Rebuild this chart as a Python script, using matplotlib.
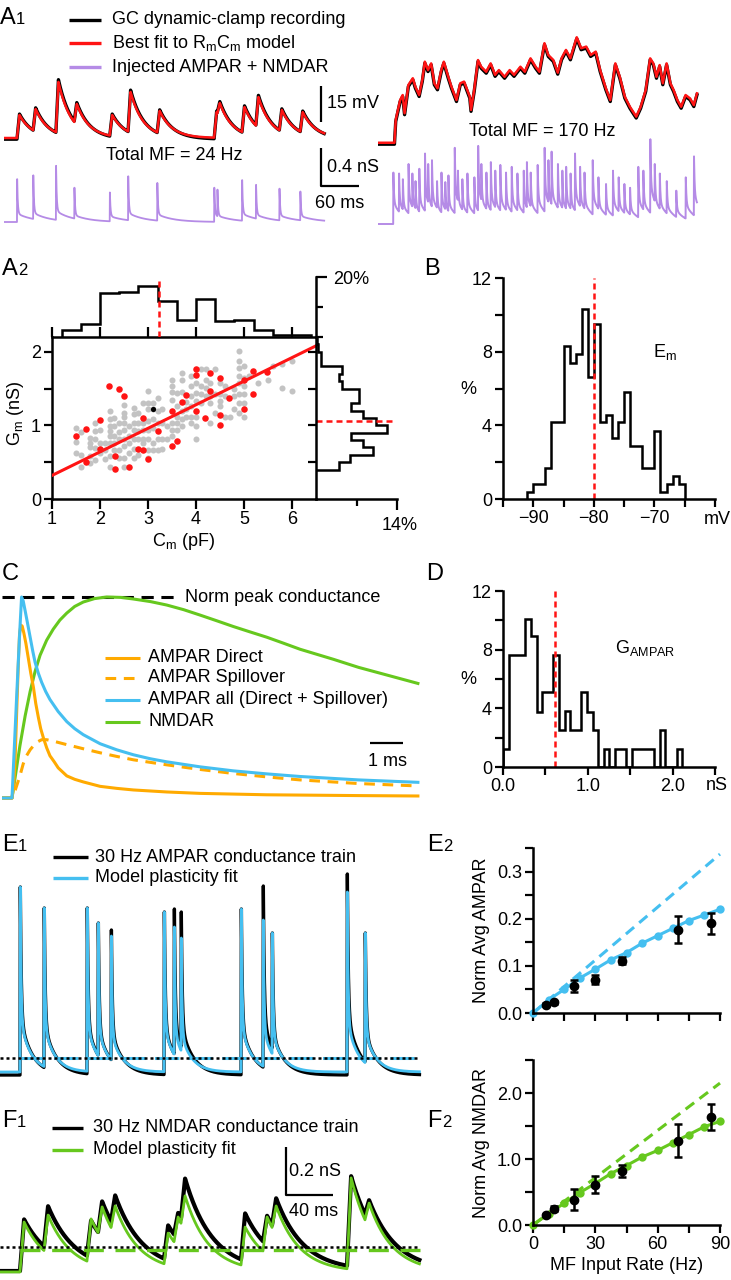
import numpy as np
import matplotlib
matplotlib.use("Agg")
import matplotlib.pyplot as plt

# ======================= DATA =======================
# ---- A1 left (Total MF = 24 Hz) ----
a1l_onsets = [20.5, 46, 82, 111, 167, 196, 242, 332, 337, 376, 398, 435, 468]          # ms
a1l_vpeak = [9.6, 12.1, 23.4, 14.2, 9.6, 19.2, 11.3, 10.8, 14.6, 12.9, 17.1, 11.7, 10.8]  # mV above rest
a1l_gpeak = [0.45, 0.49, 0.59, 0.36, 0.31, 0.48, 0.41, 0.36, 0.34, 0.44, 0.39, 0.35, 0.32]  # nS
a1_duration = 506
# ---- A1 right (Total MF = 170 Hz) ----
a1r_t = [0, 26, 28, 35, 39, 42, 48, 55, 59, 65, 70, 74, 79, 84, 89, 94, 100, 104, 111, 116,
         124, 130, 136, 145, 147, 152, 158, 163, 171, 178, 185, 191, 200, 208, 215, 225, 232, 241, 249, 255,
         263, 269, 277, 284, 290, 297, 304, 314, 321, 329, 336, 344, 351, 360, 367, 375, 382, 390, 398, 408,
         415, 423, 430, 435, 440, 445, 450, 456, 462, 467, 473, 479, 486, 493, 499, 504]
a1r_v = [0.1, 0.1, 9.6, 17.9, 20, 12.4, 24.2, 27, 23.5, 20, 26.3, 33.9, 30.4, 33.2, 24.9, 22.8, 30.4, 33.9, 27.6, 23.5,
         17.9, 24.9, 25.6, 19.3, 13.8, 22.1, 34.6, 31.8, 29.7, 33.2, 28.4, 30.4, 27.6, 30.4, 28.4, 31.8, 29.7, 35.3, 31.8, 29.7,
         41.6, 36.7, 34.6, 29.3, 35.3, 38.8, 35.3, 44.1, 39.5, 40.2, 36.7, 38.1, 30.4, 22.8, 17.9, 33.2, 27.6, 19.3, 15.1, 11,
         15.1, 22.1, 35.3, 33.2, 27.6, 32.5, 24.9, 33.2, 24.9, 22.1, 17.9, 15.1, 20, 18.6, 15.8, 20.7]
a1r_onsets = [24, 33, 39, 48, 54, 59, 65, 74, 79, 85, 93, 100, 106, 111, 121, 126, 133, 141, 152, 158,
              163, 171, 178, 185, 193, 202, 211, 220, 230, 235, 241, 252, 263, 269, 274, 284, 291, 297, 304, 311,
              319, 326, 339, 348, 360, 371, 380, 389, 398, 411, 419, 430, 437, 445, 456, 471, 486, 499]
a1r_gpeak = [0.54, 0.53, 0.47, 0.63, 0.53, 0.45, 0.58, 0.74, 0.63, 0.67, 0.45, 0.54, 0.44, 0.51, 0.80, 0.56, 0.47, 0.53, 0.49, 0.82,
             0.63, 0.54, 0.65, 0.56, 0.62, 0.54, 0.60, 0.53, 0.56, 0.65, 0.54, 0.62, 0.80, 0.67, 0.76, 0.63, 0.56, 0.60, 0.53, 0.74,
             0.60, 0.54, 0.67, 0.49, 0.42, 0.56, 0.49, 0.42, 0.38, 0.60, 0.56, 0.89, 0.63, 0.53, 0.45, 0.35, 0.49, 0.71]

# ---- A2 ----
a2_gray = {
    1.5: [0.97, 0.77, 0.63], 1.6: [0.91, 0.60, 0.44], 1.8: [0.83, 0.76, 0.71, 0.58, 0.49],
    1.9: [1.03, 0.92, 0.81, 0.69, 0.53], 2.0: [0.94, 0.76, 0.63], 2.1: [0.76, 0.67, 0.54],
    2.2: [1.19, 1.08, 0.99, 0.92, 0.85, 0.76, 0.58, 0.44], 2.3: [1.10, 0.99, 0.85, 0.76, 0.67],
    2.4: [1.03, 0.91, 0.81, 0.67, 0.56], 2.5: [1.27, 1.17, 1.12, 1.03, 0.94, 0.81, 0.72, 0.56, 0.44],
    2.6: [0.99, 0.85, 0.76, 0.63], 2.7: [1.24, 1.15, 1.03, 0.94, 0.81, 0.68, 0.56],
    2.8: [1.17, 1.03, 0.92, 0.81, 0.60], 2.9: [1.31, 1.03, 0.94, 0.81, 0.76],
    3.0: [1.46, 1.31, 1.22, 1.06, 0.94, 0.81, 0.67, 0.56], 3.1: [1.31, 1.22, 1.08, 0.96, 0.76, 0.67],
    3.2: [1.37, 1.19, 1.03, 0.81, 0.67], 3.3: [1.22, 1.03, 0.81, 0.68], 3.4: [0.99, 0.81],
    3.5: [1.62, 1.53, 1.45, 1.35, 1.03, 0.94, 0.85], 3.6: [1.44, 1.26, 1.12, 1.03, 0.94],
    3.7: [1.71, 1.62, 1.45, 1.19, 1.08, 0.99], 3.8: [1.32, 1.22, 1.12],
    3.9: [1.67, 1.53, 1.40, 1.26, 1.12, 1.03], 4.0: [1.58, 1.44, 1.33, 1.12, 0.99, 0.81],
    4.1: [1.76, 1.53, 1.42, 1.31], 4.2: [1.76, 1.62, 1.51, 1.40], 4.3: [1.58, 1.40, 1.31, 1.03],
    4.4: [1.76, 1.42, 1.17], 4.5: [1.58, 1.42, 1.33, 1.26], 4.6: [1.53, 1.40, 1.12], 4.7: [1.12],
    4.8: [1.49, 1.40, 1.22], 4.9: [2.01, 1.87, 1.78, 1.67, 1.58, 1.42, 1.31, 1.17],
    5.0: [1.80, 1.65, 1.53, 1.42, 1.31, 1.12], 5.1: [1.67], 5.3: [1.58], 5.5: [1.62], 5.6: [1.80],
    5.8: [1.83, 1.51], 6.0: [1.87, 1.46],
}
a2_red_cm = [1.51, 1.71, 1.71, 2.0, 2.0, 2.19, 2.31, 2.31, 2.40, 2.50, 2.60, 2.79, 2.90, 2.90, 2.99, 3.20, 3.49, 3.49,
             3.60, 3.70, 3.79, 3.99, 3.99, 3.99, 4.19, 4.29, 4.29, 4.49, 4.49, 4.49, 4.69, 4.99, 4.99, 5.18, 5.18, 5.47]
a2_red_gm = [0.86, 0.95, 0.50, 1.07, 0.68, 1.53, 0.58, 0.41, 1.49, 1.40, 0.43, 0.68, 0.66, 1.10, 0.54, 0.93, 1.19, 0.72,
             0.79, 1.32, 1.41, 1.76, 1.68, 1.19, 1.10, 1.71, 1.47, 1.65, 1.14, 1.01, 1.37, 1.61, 1.22, 1.74, 1.43, 1.73]
a2_black_cm, a2_black_gm = [3.10], [1.22]
a2_fit_cm = [1.0, 6.5]
a2_fit_gm = [0.32, 2.08]
a2_cm_edges = [1.2, 1.6, 2.0, 2.4, 2.8, 3.2, 3.6, 4.0, 4.4, 4.8, 5.2, 5.6, 6.0, 6.4]
a2_cm_pct = [2.2, 4.4, 14.7, 15.0, 16.9, 11.9, 5.6, 12.6, 5.3, 5.8, 2.2, 0.8, 0.8]
a2_cm_median = 3.23
a2_gm_edges = [0.4, 0.5, 0.6, 0.7, 0.8, 0.9, 1.0, 1.1, 1.2, 1.3, 1.4, 1.5, 1.6, 1.7, 1.8, 1.9, 2.0, 2.1, 2.2]
a2_gm_pct = [4.0, 5.9, 9.9, 8.1, 6.0, 12.3, 10.3, 8.1, 6.0, 7.5, 7.5, 4.5, 4.0, 4.5, 0.8, 0.8, 0.4, 0.1]
a2_gm_median = 1.06

# ---- B ----
b_edges = list(range(-91, -64))
b_pct = [0.4, 0.83, 0.83, 1.66, 4.17, 4.17, 8.3, 7.4, 7.85, 10.3, 6.6, 9.5, 4.17, 4.55, 3.3, 4.17, 5.8,
         2.9, 2.9, 1.66, 1.66, 3.7, 0.4, 0.83, 1.24, 0.83]
b_median = -80

# ---- C (normalised conductance waveforms, time in ms) ----
c_direct_t = [-0.3, 0.0, 0.05, 0.09, 0.14, 0.19, 0.23, 0.27, 0.31, 0.36, 0.42, 0.49, 0.57, 0.65, 0.72, 0.80, 0.87,
              0.95, 1.05, 1.15, 1.28, 1.40, 1.66, 1.90, 2.16, 2.67, 3.17, 3.68, 4.69, 5.70, 7.72, 10.5, 12.3]
c_direct_v = [0, 0, 0.06, 0.17, 0.42, 0.66, 0.82, 0.86, 0.855, 0.82, 0.77, 0.70, 0.62, 0.55, 0.47, 0.40, 0.345,
              0.30, 0.25, 0.21, 0.18, 0.15, 0.11, 0.093, 0.08, 0.058, 0.048, 0.04, 0.03, 0.023, 0.016, 0.012, 0.01]
c_spill_t = [-0.3, 0.0, 0.10, 0.24, 0.34, 0.44, 0.55, 0.65, 0.78, 0.90, 1.05, 1.25, 1.60, 2.16, 2.67, 3.17, 3.68,
             4.69, 5.70, 6.71, 7.72, 8.73, 10.5, 12.3]
c_spill_v = [0, 0, 0.04, 0.11, 0.17, 0.21, 0.24, 0.26, 0.28, 0.29, 0.29, 0.283, 0.268, 0.245, 0.225, 0.207, 0.19,
             0.165, 0.142, 0.122, 0.105, 0.09, 0.072, 0.06]
c_all_t = [-0.3, 0.0, 0.07, 0.14, 0.22, 0.29, 0.34, 0.40, 0.47, 0.55, 0.63, 0.70, 0.80, 0.90, 1.02, 1.15, 1.40,
           1.66, 1.90, 2.16, 2.67, 3.17, 3.68, 4.20, 4.69, 5.70, 6.71, 7.72, 8.73, 10.5, 12.3]
c_all_v = [0, 0, 0.25, 0.50, 0.78, 1.0, 0.98, 0.93, 0.87, 0.80, 0.73, 0.675, 0.62, 0.575, 0.53, 0.49, 0.43,
           0.38, 0.345, 0.315, 0.27, 0.24, 0.215, 0.195, 0.18, 0.155, 0.135, 0.12, 0.107, 0.09, 0.078]
c_nmda_t = [-0.3, 0.0, 0.12, 0.24, 0.40, 0.55, 0.70, 0.85, 1.05, 1.25, 1.45, 1.66, 1.90, 2.16, 2.50, 2.87, 3.30,
            3.68, 4.20, 4.69, 5.20, 5.70, 6.20, 6.71, 7.22, 7.72, 8.23, 8.73, 9.74, 10.5, 11.4, 12.3]
c_nmda_v = [0, 0, 0.13, 0.26, 0.41, 0.53, 0.63, 0.71, 0.785, 0.84, 0.885, 0.92, 0.953, 0.975, 0.992, 1.0, 0.998,
            0.99, 0.977, 0.96, 0.937, 0.91, 0.882, 0.853, 0.826, 0.80, 0.77, 0.74, 0.69, 0.65, 0.61, 0.57]
c_labels = ["AMPAR Direct", "AMPAR Spillover", "AMPAR all (Direct + Spillover)", "NMDAR"]

# ---- D ----
d_bin = 0.066
d_pct = [1.25, 7.66, 7.66, 7.66, 10.1, 8.9, 3.75, 5.1, 5.1, 7.66, 2.5, 3.8, 2.5, 2.5, 5.1, 3.75, 2.5, 0,
         1.25, 0, 1.25, 1.25, 0, 1.25, 1.25, 1.25, 1.25, 0, 2.5, 0, 0, 1.25]
d_median = 0.615

# ---- E1 / F1 (30 Hz train) ----
train_onsets = [17.0, 37.4, 74.0, 83.4, 94.5, 139.6, 148.1, 154.0, 205.1, 223.8, 231.5, 295.3, 310.6]  # ms
train_duration = 357
e1_model_peak = [1.71, 1.50, 1.50, 1.35, 1.22, 1.46, 1.31, 1.20, 1.49, 1.38, 1.25, 1.66, 1.25]
e1_rec_peak = [1.71, 1.50, 1.50, 1.35, 1.28, 1.46, 1.49, 1.46, 1.49, 1.72, 1.25, 1.84, 1.25]
f1_model_peak = [0.104, 0.133, 0.117, 0.167, 0.171, 0.058, 0.125, 0.213, 0.083, 0.125, 0.171, 0.288, 0.183]
f1_rec_peak = [0.115, 0.170, 0.110, 0.190, 0.215, 0.090, 0.142, 0.285, 0.140, 0.130, 0.203, 0.295, 0.195]

# ---- E2 / F2 ----
rate_model = [0, 7.5, 15, 22.5, 30, 37.5, 45, 52.5, 60, 67.5, 75, 82.5, 90]
e2_model = [0, 0.028, 0.05, 0.074, 0.093, 0.113, 0.128, 0.148, 0.164, 0.18, 0.196, 0.208, 0.22]
e2_linear_x, e2_linear_y = [0, 90], [0, 0.337]
rate_data = [6.4, 10.1, 19.8, 29.7, 43, 70, 85.5]
e2_data = [0.018, 0.023, 0.057, 0.071, 0.111, 0.177, 0.19]
e2_err = [0.003, 0.003, 0.012, 0.010, 0.007, 0.028, 0.022]
f2_model = [0, 0.17, 0.33, 0.49, 0.63, 0.78, 0.90, 1.03, 1.13, 1.25, 1.37, 1.49, 1.57]
f2_linear_x, f2_linear_y = [0, 90], [0, 2.15]
f2_data = [0.15, 0.25, 0.38, 0.61, 0.82, 1.28, 1.64]
f2_err = [0.02, 0.04, 0.16, 0.13, 0.09, 0.25, 0.20]

# ======================= STYLE =======================
BLACK = "black"
RED = "#ff1414"
PURPLE = "#b58be6"
BLUE = "#45bff0"
GREEN = "#66c81e"
ORANGE = "#ffaa00"
GRAY = "#c3c3c3"
FS = 13

plt.rcParams["font.family"] = ["Liberation Sans", "DejaVu Sans"]
plt.rcParams["mathtext.fontset"] = "custom"
plt.rcParams["mathtext.rm"] = "Liberation Sans"
plt.rcParams["mathtext.it"] = "Liberation Sans:italic"

W, H, DPI = 731, 1280, 100
fig = plt.figure(figsize=(W / DPI, H / DPI), dpi=DPI)


def px_axes(x0, y0, x1, y1, zorder=1):
    ax = fig.add_axes([x0 / W, 1 - y1 / H, (x1 - x0) / W, (y1 - y0) / H], zorder=zorder)
    ax.set_facecolor("none")
    return ax


def trace_axes(x0, x1, y0, y1, t0, ms_per_px, yref_px, yref_val, per_px):
    ax = px_axes(x0, y0, x1, y1)
    ax.set_xlim(t0, t0 + (x1 - x0) * ms_per_px)
    ax.set_ylim(yref_val - (y1 - yref_px) * per_px, yref_val + (yref_px - y0) * per_px)
    ax.axis("off")
    return ax


def decay(dt, taus, weights):
    return sum(w * np.exp(-dt / tau) for w, tau in zip(weights, taus))


def build_trace(t, onsets, peaks, rest, rise, taus, weights):
    v = np.full(t.shape, float(rest))
    prev = None
    bounds = list(onsets) + [np.inf]
    for i, (t0, pk) in enumerate(zip(onsets, peaks)):
        if prev is None:
            v_on = rest
        else:
            pk0, tp0 = prev
            v_on = rest + (pk0 - rest) * decay(max(t0 - tp0, 0.0), taus, weights)
        tp = t0 + rise
        m = (t >= t0) & (t < bounds[i + 1])
        tt = t[m]
        rising = v_on + (pk - v_on) * np.clip((tt - t0) / rise, 0, 1)
        falling = rest + (pk - rest) * decay(np.maximum(tt - tp, 0), taus, weights)
        v[m] = np.where(tt < tp, rising, falling)
        prev = (pk, tp)
    return v


def style_axes(ax, spines=("left", "bottom")):
    for s in ["left", "right", "top", "bottom"]:
        ax.spines[s].set_visible(s in spines)
        ax.spines[s].set_linewidth(1.8)
    ax.tick_params(which="both", direction="out", width=1.6, labelsize=FS, pad=2)
    ax.tick_params(which="major", length=6)
    ax.tick_params(which="minor", length=6)


# overlay for labels / scale bars (pixel coordinates)
ov = px_axes(0, 0, W, H, zorder=20)
ov.set_xlim(0, W)
ov.set_ylim(H, 0)
ov.axis("off")


def txt(x, y, s, size=FS, ha="left", va="center", **kw):
    ov.text(x, y, s, fontsize=size, ha=ha, va=va, **kw)


def panel(x, y, letter, sub=None, subdx=16):
    ov.text(x, y, letter, fontsize=17, ha="left", va="baseline")
    if sub:
        ov.text(x + subdx, y, sub, fontsize=12, ha="left", va="baseline")


def seg(xs, ys, color=BLACK, lw=1.6, **kw):
    ov.plot(xs, ys, color=color, lw=lw, solid_capstyle="butt", **kw)

# ======================= A1 =======================
t_a1 = np.arange(0, a1_duration, 0.1)
axLV = trace_axes(4, 330, 60, 150, 0, 1.58, 138, 0, 0.417)
vL_rec = build_trace(t_a1, a1l_onsets, [p * 1.04 for p in a1l_vpeak], -0.5, 4.0, [21.0], [1.0])
vL_fit = build_trace(t_a1, a1l_onsets, a1l_vpeak, 0.0, 4.0, [20.0], [1.0])
axLV.plot(t_a1, vL_rec, color=BLACK, lw=2.4)
axLV.plot(t_a1, vL_fit, color=RED, lw=1.8)

axRV = trace_axes(378, 700, 25, 150, 0, 1.58, 143, 0, 0.417)
axRV.plot(a1r_t, np.array(a1r_v) - 0.6, color=BLACK, lw=2.4)
axRV.plot(a1r_t, a1r_v, color=RED, lw=1.8)

axLG = trace_axes(4, 330, 150, 232, 0, 1.58, 222, 0, 0.0105)
gL = build_trace(t_a1, a1l_onsets, a1l_gpeak, 0.0, 0.3, [1.0, 25.0], [0.8, 0.2])
axLG.plot(t_a1, gL, color=PURPLE, lw=1.3)

t_a1r = np.arange(0, 504, 0.1)
axRG = trace_axes(378, 700, 120, 232, 0, 1.58, 224, 0, 0.0105)
gR = build_trace(t_a1r, a1r_onsets, a1r_gpeak, 0.0, 0.3, [1.0, 16.0], [0.58, 0.42])
axRG.plot(t_a1r, gR, color=PURPLE, lw=1.4)

panel(0, 24, "A", "1")
for yy, col, lab in [(20, BLACK, "GC dynamic-clamp recording"),
                     (43, RED, r"Best fit to R$_\mathregular{m}$C$_\mathregular{m}$ model"),
                     (67, PURPLE, "Injected AMPAR + NMDAR")]:
    seg([69, 101], [yy, yy], color=col, lw=2.4)
    txt(112, yy, lab)
seg([321, 321], [86, 122])
txt(327, 104, "15 mV")
seg([321, 321, 359], [148, 186, 186])
txt(327, 168, "0.4 nS")
txt(340, 203, "60 ms", ha="center")
txt(174, 155, "Total MF = 24 Hz", ha="center")
txt(542, 132, "Total MF = 170 Hz", ha="center")

# ======================= A2 =======================
axM = px_axes(52, 337, 316, 499)
axM.set_xlim(1, 6.5)
axM.set_ylim(0, 2.2)
gx = [k for k, vs in a2_gray.items() for _ in vs]
gy = [v for vs in a2_gray.values() for v in vs]
axM.scatter(gx, gy, s=19, color=GRAY, lw=0, zorder=2)
axM.plot(a2_fit_cm, a2_fit_gm, color=RED, lw=2.2, zorder=3)
axM.scatter(a2_red_cm, a2_red_gm, s=22, color=RED, lw=0, zorder=4)
axM.scatter(a2_black_cm, a2_black_gm, s=14, color=BLACK, lw=0, zorder=5)
style_axes(axM, ("left", "bottom", "top"))
axM.set_xticks([1, 2, 3, 4, 5, 6])
axM.set_yticks([0, 1, 2])
axM.set_yticks([0.5, 1.5], minor=True)
axM.tick_params(top=True, labeltop=False, which="both")
axM.tick_params(axis="x", which="major", length=7)

axT = px_axes(52, 277, 316, 337)
axT.set_xlim(1, 6.5)
axT.set_ylim(0, 20)
axT.stairs(a2_cm_pct, a2_cm_edges, color=BLACK, lw=1.8)
axT.plot([a2_cm_median, a2_cm_median], [0, 19.7], color=RED, lw=1.8, dashes=(2.4, 1.6))
style_axes(axT, ("right",))
axT.set_xticks([])
axT.yaxis.tick_right()
axT.set_yticks([20])
axT.set_yticklabels([])
axT.set_yticks([0, 10], minor=True)
axT.tick_params(axis="y", which="major", length=8)
axT.tick_params(axis="y", which="minor", length=5)
axT.spines["right"].set_bounds(0, 20)

axR = px_axes(316, 337, 397, 499)
axR.set_xlim(0, 14)
axR.set_ylim(0, 2.2)
axR.stairs(a2_gm_pct, a2_gm_edges, orientation="horizontal", color=BLACK, lw=1.8)
axR.plot([0, 13.6], [a2_gm_median, a2_gm_median], color=RED, lw=1.8, dashes=(2.4, 1.6))
style_axes(axR, ("left", "bottom"))
axR.set_yticks([0.5, 1.0, 1.5, 2.0])
axR.set_yticklabels([])
axR.set_xticks([14])
axR.set_xticklabels([])
axR.set_xticks([7], minor=True)
axR.tick_params(axis="x", which="major", length=8)
axR.tick_params(axis="x", which="minor", length=5)

panel(2, 275, "A", "2")
txt(333, 279, "20%")
txt(400, 525, "14%", ha="center")
txt(184, 542, r"C$_\mathregular{m}$ (pF)", ha="center")
ov.text(15, 413, r"G$_\mathregular{m}$ (nS)", fontsize=FS, ha="center", va="center", rotation=90)

# ======================= B =======================
axB = px_axes(503, 278, 715, 499)
axB.set_xlim(-95, -60)
axB.set_ylim(0, 12)
axB.stairs(b_pct, b_edges, color=BLACK, lw=1.8)
axB.plot([b_median, b_median], [0, 12], color=RED, lw=1.8, dashes=(2.4, 1.6))
style_axes(axB)
axB.set_xticks(np.arange(-95, -59, 5))
axB.set_xticklabels(["", "\u221290", "", "\u221280", "", "\u221270", "", ""])
axB.set_yticks(np.arange(0, 13, 2))
axB.set_yticklabels(["0", "", "4", "", "8", "", "12"])
panel(424, 275, "B")
txt(468, 390, "%", ha="center")
txt(653, 352, r"E$_\mathregular{m}$")
txt(717, 520, "mV", ha="center")

# ======================= C =======================
axC = trace_axes(2, 420, 585, 805, -10 / 33, 1 / 33, 798, 0, 1 / 201)
axC.plot([-0.3, 4.94], [1, 1], color=BLACK, lw=2.2, dashes=(4, 2.5))
axC.plot(c_nmda_t, c_nmda_v, color=GREEN, lw=2.2)
axC.plot(c_spill_t, c_spill_v, color=ORANGE, lw=2.2, dashes=(3.5, 2.5))
axC.plot(c_direct_t, c_direct_v, color=ORANGE, lw=2.2)
axC.plot(c_all_t, c_all_v, color=BLUE, lw=2.2)
panel(2, 580, "C")
txt(185, 597, "Norm peak conductance")
for yy, col, dsh, lab in [(658, ORANGE, None, c_labels[0]), (678, ORANGE, (3.5, 2.5), c_labels[1]),
                          (700, BLUE, None, c_labels[2]), (722, GREEN, None, c_labels[3])]:
    if dsh:
        seg([105, 140], [yy, yy], color=col, lw=2.2, dashes=dsh)
    else:
        seg([105, 140], [yy, yy], color=col, lw=2.2)
    txt(148, yy, lab)
seg([370, 403], [743, 743])
txt(387, 762, "1 ms", ha="center")

# ======================= D =======================
axD = px_axes(503, 591, 715, 767)
axD.set_xlim(0, 2.5)
axD.set_ylim(0, 12)
d_edges = np.arange(len(d_pct) + 1) * d_bin
axD.stairs(d_pct, d_edges, color=BLACK, lw=1.8)
axD.plot([d_median, d_median], [0, 12], color=RED, lw=1.8, dashes=(2.4, 1.6))
style_axes(axD)
axD.set_xticks(np.arange(0, 2.51, 0.5))
axD.set_xticklabels(["0.0", "", "1.0", "", "2.0", ""])
axD.set_yticks(np.arange(0, 13, 2))
axD.set_yticklabels(["0", "", "4", "", "8", "", "12"])
panel(426, 580, "D")
txt(468, 680, "%", ha="center")
txt(615, 648, r"G$_\mathregular{AMPAR}$")
txt(717, 786, "nS", ha="center")

# ======================= E1 =======================
t_e = np.arange(0, train_duration, 0.05)
axE1 = trace_axes(0, 425, 860, 1090, 0, 0.851, 1058, 0, 0.01)
e_rec = build_trace(t_e, train_onsets, e1_rec_peak, -0.17, 0.3, [0.8, 10.0], [0.7, 0.3])
e_fit = build_trace(t_e, train_onsets, e1_model_peak, -0.14, 0.3, [0.7, 9.0], [0.72, 0.28])
axE1.plot(t_e, e_rec, color=BLACK, lw=2.4)
axE1.plot([train_onsets[0], train_duration], [0, 0], color=BLUE, lw=2.2, dashes=(8, 3))
axE1.plot(t_e, e_fit, color=BLUE, lw=2.0)
axE1.plot([0, train_duration], [0, 0], color=BLACK, lw=1.8, dashes=(1.2, 1.2))
panel(2, 851, "E", "1")
seg([53, 88], [857, 857], color=BLACK, lw=2.4)
txt(95, 857, "30 Hz AMPAR conductance train")
seg([53, 88], [878, 878], color=BLUE, lw=2.4)
txt(95, 878, "Model plasticity fit")

# ======================= F1 =======================
t_f = np.arange(0, train_duration, 0.1)
axF1 = trace_axes(0, 425, 1150, 1280, 0, 0.851, 1247, 0, 0.2 / 48)
f_rec = build_trace(t_f, train_onsets, f1_rec_peak, -0.10, 3.5, [23.0], [1.0])
f_fit = build_trace(t_f, train_onsets, f1_model_peak, -0.104, 3.5, [20.0], [1.0])
axF1.plot(t_f, f_rec, color=BLACK, lw=3.0)
axF1.plot([train_onsets[0], train_duration], [-0.0125, -0.0125], color=GREEN, lw=2.4, dashes=(6, 3.5))
axF1.plot(t_f, f_fit, color=GREEN, lw=2.0)
axF1.plot([0, train_duration], [0, 0], color=BLACK, lw=1.8, dashes=(1.2, 1.2))
panel(2, 1127, "F", "1", 15)
seg([52, 83], [1128, 1128], color=BLACK, lw=2.4)
txt(93, 1128, "30 Hz NMDAR conductance train")
seg([52, 83], [1150, 1150], color=GREEN, lw=2.4)
txt(93, 1150, "Model plasticity fit")
seg([286, 286, 333], [1147, 1195, 1195])
txt(289, 1171, "0.2 nS")
txt(289, 1212, "40 ms")

# ======================= E2 =======================
axE2 = px_axes(533, 848, 720, 1013)
axE2.set_xlim(0, 90)
axE2.set_ylim(0, 0.35)
axE2.plot(e2_linear_x, e2_linear_y, color=BLUE, lw=2.2, dashes=(3.5, 2.2), clip_on=False)
axE2.plot(rate_model, e2_model, color=BLUE, lw=2.2, marker="o", ms=6, mec="none", clip_on=False)
axE2.errorbar(rate_data, e2_data, yerr=e2_err, fmt="o", color=BLACK, ms=6, capsize=3.2,
              elinewidth=1.8, capthick=1.8, clip_on=False, zorder=5)
style_axes(axE2)
axE2.set_xticks(np.arange(0, 91, 15))
axE2.set_xticklabels([])
axE2.set_yticks([0, 0.1, 0.2, 0.3])
axE2.set_yticklabels(["0.0", "0.1", "0.2", "0.3"])
axE2.set_yticks([0.05, 0.15, 0.25, 0.35], minor=True)
panel(427, 851, "E", "2")
ov.text(482, 930, "Norm Avg AMPAR", fontsize=FS, ha="center", va="center", rotation=90)

# ======================= F2 =======================
axF2 = px_axes(533, 1060, 720, 1225)
axF2.set_xlim(0, 90)
axF2.set_ylim(0, 2.5)
axF2.plot(f2_linear_x, f2_linear_y, color=GREEN, lw=2.2, dashes=(3.5, 2.2), clip_on=False)
axF2.plot(rate_model, f2_model, color=GREEN, lw=2.2, marker="o", ms=6, mec="none", clip_on=False)
axF2.errorbar(rate_data, f2_data, yerr=f2_err, fmt="o", color=BLACK, ms=6, capsize=3.2,
              elinewidth=1.8, capthick=1.8, clip_on=False, zorder=5)
style_axes(axF2)
axF2.set_xticks(np.arange(0, 91, 15))
axF2.set_xticklabels(["0", "", "30", "", "60", "", "90"])
axF2.set_yticks([0, 1, 2])
axF2.set_yticklabels(["0.0", "1.0", "2.0"])
axF2.set_yticks([0.5, 1.5, 2.5], minor=True)
panel(427, 1127, "F", "2", 15)
ov.text(482, 1143, "Norm Avg NMDAR", fontsize=FS, ha="center", va="center", rotation=90)
txt(627, 1266, "MF Input Rate (Hz)", ha="center")

fig.savefig("out.png", dpi=DPI)
